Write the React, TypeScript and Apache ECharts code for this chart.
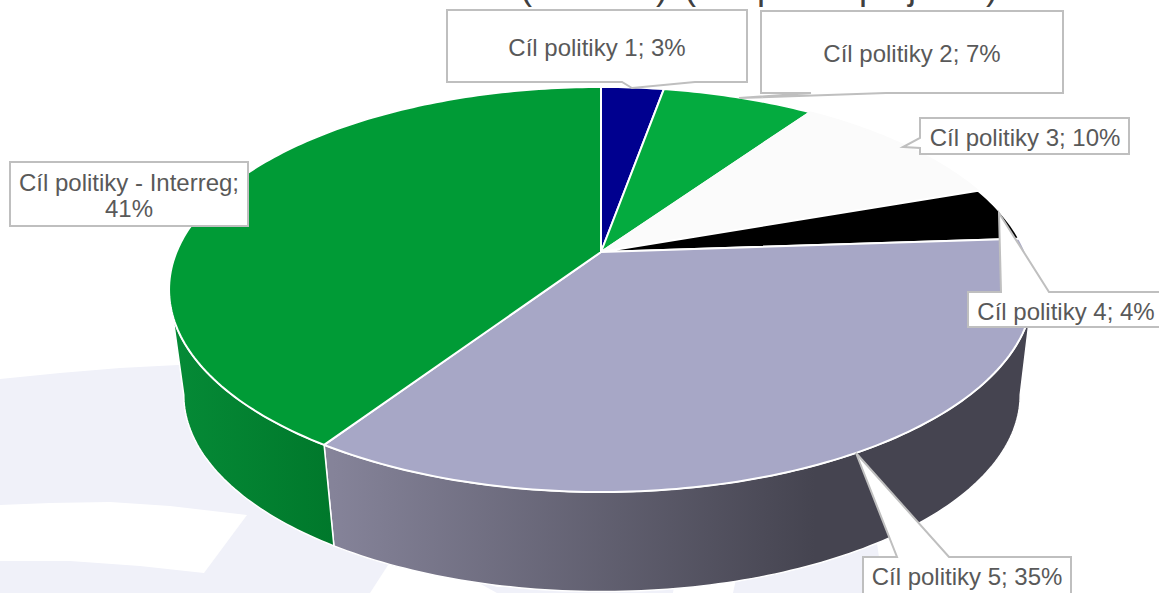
import React, { useEffect, useRef } from "react";
import * as echarts from "echarts";

const categories = ["Cíl politiky 1", "Cíl politiky 2", "Cíl politiky 3", "Cíl politiky 4", "Cíl politiky 5", "Cíl politiky - Interreg"];
const values = [2.8, 6.8, 10.0, 4.3, 35.4, 40.7];
const topColors = ["#00008f", "#04ab3f", "#fbfbfb", "#000000", "#a7a7c6", "#009b36"];

const FONT = "'Liberation Sans', Arial, sans-serif";
const TOTAL = values.reduce((a, b) => a + b, 0);

// Perspective of the pie's top and bottom discs
const K = 0.185;
const TOP = { cx: 601, cy: 252, bx: 424.5, ay: 195.6 };
const BOTTOM = { cx: 602, cy: 358.5, bx: 411, ay: 190 };
const RIGHT_TANGENT = Math.PI / 2 + Math.asin(K);
const LEFT_TANGENT = (3 * Math.PI) / 2 - Math.asin(K);

function project(theta: number, disc: typeof TOP): number[] {
  const u = Math.sin(theta);
  const v = Math.cos(theta);
  const w = 1 + K * v;
  return [disc.cx + (disc.bx * u) / w, disc.cy - (disc.ay * v) / w];
}

function arc(a0: number, a1: number, disc: typeof TOP): number[][] {
  const n = Math.max(2, Math.ceil(Math.abs(a1 - a0) / (Math.PI / 180)));
  const pts: number[][] = [];
  for (let i = 0; i <= n; i++) pts.push(project(a0 + ((a1 - a0) * i) / n, disc));
  return pts;
}

const wallFills: Record<number, any> = {
  4: new echarts.graphic.LinearGradient(333, 0, 815, 0, [
    { offset: 0, color: "#858399" },
    { offset: 1, color: "#454450" },
  ], true),
  5: new echarts.graphic.LinearGradient(176, 0, 333, 0, [
    { offset: 0, color: "#058a36" },
    { offset: 1, color: "#00782b" },
  ], true),
};

function renderSlice(params: any, api: any) {
  const i = params.dataIndex;
  let before = 0;
  for (let j = 0; j < i; j++) before += values[j];
  const a0 = (before / TOTAL) * Math.PI * 2;
  const a1 = ((before + api.value(0)) / TOTAL) * Math.PI * 2;
  const children: any[] = [];
  const w0 = Math.max(a0, RIGHT_TANGENT);
  const w1 = Math.min(a1, LEFT_TANGENT);
  if (w1 > w0 && wallFills[i]) {
    children.push({
      type: "polygon",
      shape: { points: [...arc(w0, w1, TOP), ...arc(w1, w0, BOTTOM)] },
      style: { fill: wallFills[i], stroke: "#ffffff", lineWidth: 1.5 },
    });
  }
  children.push({
    type: "polygon",
    shape: { points: [[TOP.cx, TOP.cy], ...arc(a0, a1, TOP)] },
    style: { fill: topColors[i], stroke: i === 2 ? "#fbfbfb" : "#ffffff", lineWidth: 2 },
  });
  return { type: "group", children };
}

const labelText = (i: number) => `${categories[i]}; ${Math.round(values[i])}%`;

type Box = { tx: number; ty: number; pts: number[][] };
// Callout outlines: box with its pointer, in page pixels
const callouts: Box[] = [
  { tx: 597, ty: 47, pts: [[447, 10], [747, 10], [747, 82], [695, 82], [632, 88], [622, 82], [447, 82]] },
  { tx: 912, ty: 53, pts: [[761, 11], [1063, 11], [1063, 93], [886, 93], [739, 98], [811, 93], [761, 93]] },
  { tx: 1025, ty: 137, pts: [[920, 118], [1129, 118], [1129, 154], [920, 154], [920, 148], [903, 147], [920, 138]] },
  { tx: 1066, ty: 311, pts: [[968, 292], [1001, 292], [999, 213], [1049, 292], [1161, 292], [1161, 327], [968, 327]] },
  { tx: 967, ty: 576, pts: [[863, 557], [897, 557], [856, 453], [949, 557], [1071, 557], [1071, 596], [863, 596]] },
  { tx: 129, ty: 195, pts: [[10, 162], [248, 162], [248, 226], [10, 226]] },
];

const LAVENDER = "#f0f1f9";
const backdrop: { fill: string; points: number[][] }[] = [
  { fill: LAVENDER, points: [[0, 379], [60, 373], [120, 368], [178, 365], [400, 362], [700, 400], [877, 543], [884, 593], [0, 593]] },
  { fill: "#ffffff", points: [[0, 505], [50, 503], [110, 502], [170, 506], [247, 515], [204, 573], [140, 566], [70, 561], [0, 561]] },
  { fill: "#ffffff", points: [[430, 500], [370, 593], [497, 593], [470, 578]] },
  { fill: "#ffffff", points: [[470, 578], [497, 587], [675, 587], [745, 500], [520, 500]] },
  { fill: "#ffffff", points: [[673, 593], [675, 580], [740, 560], [733, 593]] },
];

// Only the feet of the clipped heading remain inside the page
const headingFeet: { ch: string; x: number }[] = [
  { ch: "(", x: 526 }, { ch: ")", x: 662 }, { ch: "(", x: 690 },
  { ch: "p", x: 767 }, { ch: "p", x: 869 }, { ch: "j", x: 912 }, { ch: ")", x: 992 },
];

export default function App() {
  const ref = useRef<HTMLDivElement>(null);
  useEffect(() => {
    document.body.style.margin = "0";
    document.body.style.overflow = "hidden";
    const chart = echarts.init(ref.current!, null, { renderer: "svg" });
    chart.setOption({
      animation: false,
      backgroundColor: "#ffffff",
      graphic: [
        ...backdrop.map((b) => ({
          type: "polygon", z: 0, silent: true,
          shape: { points: b.points }, style: { fill: b.fill },
        })),
        ...headingFeet.map((h) => ({
          type: "text", z: 1, x: h.x, y: -14, silent: true,
          style: { text: h.ch, font: `36px ${FONT}`, fill: "#404040", align: "center", verticalAlign: "middle" },
        })),
        ...callouts.map((c) => ({
          type: "polygon", z: 10, silent: true,
          shape: { points: c.pts },
          style: { fill: "#ffffff", stroke: "#bfbfbf", lineWidth: 2 },
        })),
        ...callouts.map((c, i) => ({
          type: "text", z: 11, x: c.tx, y: c.ty, silent: true,
          style: {
            text: i === 5 ? labelText(i).replace("; ", ";\n") : labelText(i),
            font: `24px ${FONT}`, fill: "#595959", align: "center", verticalAlign: "middle", lineHeight: 26,
          },
        })),
      ],
      series: [
        {
          type: "custom",
          coordinateSystem: "none",
          z: 5,
          silent: true,
          renderItem: renderSlice,
          data: values.map((v, i) => ({ name: categories[i], value: [v] })),
        },
      ],
    });
    return () => chart.dispose();
  }, []);
  return <div ref={ref} style={{ position: "absolute", left: 0, top: 0, width: 1159, height: 593 }} />;
}
